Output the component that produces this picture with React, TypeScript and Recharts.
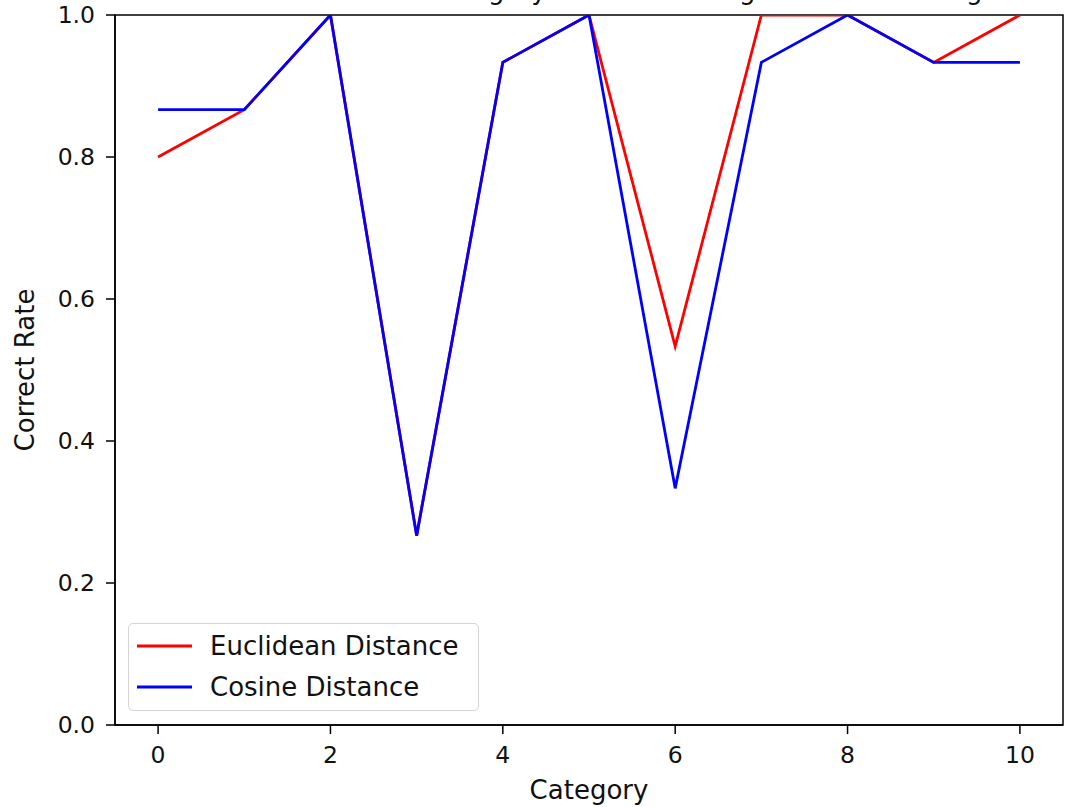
import { LineChart, Line, XAxis, YAxis, Legend, ReferenceArea } from 'recharts'

const categories = [0, 1, 2, 3, 4, 5, 6, 7, 8, 9, 10]
const euclidean = [0.8, 0.8667, 1.0, 0.2667, 0.9333, 1.0, 0.5333, 1.0, 1.0, 0.9333, 1.0]
const cosine = [0.8667, 0.8667, 1.0, 0.2667, 0.9333, 1.0, 0.3333, 0.9333, 1.0, 0.9333, 0.9333]
const seriesNames = ['Euclidean Distance', 'Cosine Distance']
const xTicks = [0, 2, 4, 6, 8, 10]
const yTicks = [0, 0.2, 0.4, 0.6, 0.8, 1.0]

const data = categories.map((c, i) => ({
  category: c,
  euclidean: euclidean[i],
  cosine: cosine[i],
}))

const FONT = '"DejaVu Sans", sans-serif'
const INK = '#111'

// legend rows follow the plotting order, not alphabetical
const renderLegend = (props: any) => {
  const payload = [...(props.payload ?? [])].sort(
    (a: any, b: any) => seriesNames.indexOf(a.value) - seriesNames.indexOf(b.value)
  )
  return (
    <div
      style={{
        boxSizing: 'border-box',
        width: 351,
        height: 88,
        paddingTop: 1,
        paddingLeft: 8,
        border: '1px solid #d4d4d4',
        borderRadius: 5,
        background: 'rgba(255,255,255,0.8)',
        fontFamily: FONT,
        fontSize: 26,
        color: INK,
      }}
    >
      {payload.map((entry: any) => (
        <div key={entry.value} style={{ display: 'flex', alignItems: 'center', height: 41 }}>
          <svg width={55} height={4} style={{ display: 'block' }}>
            <line x1={0} y1={2} x2={55} y2={2} stroke={entry.color} strokeWidth={2.8} />
          </svg>
          <span style={{ marginLeft: 18, whiteSpace: 'nowrap' }}>{entry.value}</span>
        </div>
      ))}
    </div>
  )
}

const yLabel = (props: any) => {
  const vb = props.viewBox
  const cy = vb.y + vb.height / 2
  return (
    <text
      x={34}
      y={cy}
      transform={`rotate(-90, 34, ${cy})`}
      textAnchor="middle"
      fontFamily={FONT}
      fontSize={26}
      fill={INK}
    >
      Correct Rate
    </text>
  )
}

const tickStyle = { fontFamily: FONT, fontSize: 23.5, fill: INK }

export default function App() {
  return (
    <div style={{ position: 'relative', width: 1066, height: 807, overflow: 'hidden', background: '#fff' }}>
      <style>{'body { margin: 0; }'}</style>
      <div
        style={{
          position: 'absolute',
          left: 152,
          top: -23,
          lineHeight: '26px',
          fontFamily: FONT,
          fontSize: 26,
          color: INK,
          whiteSpace: 'nowrap',
        }}
      >
        Correct Rate of Each Category in Nearest Neighbor Model Using Metrics, K=1 (Test Set)
      </div>
      <LineChart width={1066} height={807} data={data} margin={{ top: 15, right: 3, bottom: 0, left: 0 }}>
        <XAxis
          dataKey="category"
          type="number"
          domain={[-0.5, 10.5]}
          allowDataOverflow
          ticks={xTicks}
          height={82}
          tickSize={9}
          tickMargin={12}
          tick={tickStyle}
          axisLine={{ stroke: '#000', strokeWidth: 1.5 }}
          tickLine={{ stroke: '#000', strokeWidth: 1.5 }}
          label={{ value: 'Category', position: 'insideBottom', offset: 8, fontFamily: FONT, fontSize: 26, fill: INK }}
        />
        <YAxis
          type="number"
          domain={[0, 1]}
          allowDataOverflow
          ticks={yTicks}
          width={115}
          tickSize={9}
          tickMargin={11}
          tick={tickStyle}
          tickFormatter={(v: number) => v.toFixed(1)}
          axisLine={{ stroke: '#000', strokeWidth: 1.5 }}
          tickLine={{ stroke: '#000', strokeWidth: 1.5 }}
          label={yLabel}
        />
        <Line
          dataKey="euclidean"
          name="Euclidean Distance"
          stroke="#ff0000"
          strokeWidth={2.8}
          dot={false}
          activeDot={false}
          isAnimationActive={false}
        />
        <Line
          dataKey="cosine"
          name="Cosine Distance"
          stroke="#0000ff"
          strokeWidth={2.8}
          dot={false}
          activeDot={false}
          isAnimationActive={false}
        />
        {/* axes frame (top and right spines) */}
        <ReferenceArea
          x1={-0.5}
          x2={10.5}
          y1={0}
          y2={1}
          fill="none"
          stroke="#000"
          strokeWidth={1.5}
          ifOverflow="visible"
        />
        <Legend
          layout="vertical"
          align="center"
          verticalAlign="middle"
          content={renderLegend}
          wrapperStyle={{ position: 'absolute', left: 128, top: 623, width: 351, height: 88, bottom: 'auto', right: 'auto' }}
        />
      </LineChart>
    </div>
  )
}
